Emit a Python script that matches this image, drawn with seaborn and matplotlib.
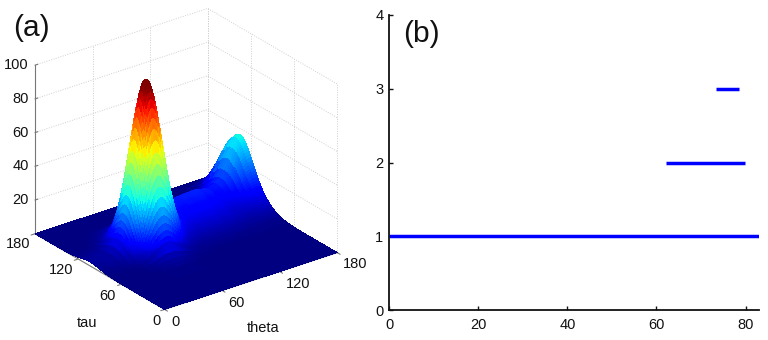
import numpy as np
import pandas as pd
import seaborn as sns
import matplotlib
matplotlib.use("Agg")
import matplotlib.pyplot as plt
from mpl_toolkits.mplot3d import proj3d

# panel (a): cross-sections, one per surface feature
theta = [0, 10, 20, 25,
         29.5, 31, 32.5, 34, 35.5, 37, 38.5, 40, 41.5, 43, 44.5, 46, 47.5, 49, 50.5, 52, 53.5, 55, 56.5, 58,
         59.5, 61, 62.5, 64, 65.5, 67, 68.5, 70, 71.5, 73, 74.5, 76, 77.5, 79, 80.5, 82, 83.5, 85, 86.5,
         90, 95, 100, 110, 120, 130, 140, 145, 150, 155, 160, 165, 170, 175, 180]
tau = [0, 20, 40, 55, 60, 65, 70,
       74.5, 76, 77.5, 79, 80.5, 82, 83.5, 85, 86.5, 88, 89.5, 91, 92.5, 94, 95.5, 97, 98.5, 100, 101.5, 103,
       104.5, 106, 107.5, 109, 110.5, 112, 113.5, 115, 116.5, 118, 119.5, 121, 122.5, 124, 125.5, 127, 128.5, 130, 131.5,
       135, 139, 145, 150, 155, 160, 170, 180]

main_height = 96
main_theta = [.024, .025, .035, .06,
              .108, .135, .168, .206, .249, .298, .352, .411, .474, .54, .607, .674, .739, .80, .857, .906, .946, .976, .994, 1,
              .994, .976, .946, .906, .857, .80, .739, .674, .607, .54, .474, .411, .352, .298, .249, .206, .168, .135, .108,
              .06, .03, .015, .005, 0, 0, 0, 0, 0, 0, 0, 0, 0, 0, 0]
main_tau = [0, 0, .003, .012, .02, .03, .05,
            .108, .135, .168, .206, .249, .298, .352, .411, .474, .54, .607, .674, .739, .80, .857, .906, .946, .976, .994, 1,
            .994, .976, .946, .906, .857, .80, .739, .674, .607, .54, .474, .411, .352, .298, .249, .206, .168, .135, .108,
            .06, .03, .015, .005, 0, 0, 0, 0]

edge_height = 31
edge_theta = [0, 0, 0, 0,
              0, 0, 0, 0, 0, 0, 0, 0, 0, 0, 0, 0, 0, 0, 0, 0, 0, 0, 0, 0,
              0, 0, 0, 0, 0, 0, 0, 0, 0, 0, 0, 0, 0, 0, 0, 0, 0, 0, 0,
              0, 0, 0, 0, 0, .004, .029, .066, .135, .249, .411, .607, .80, .946, 1]
edge_tau = [0, 0, 0, 0, 0, .001, .003,
            .0055, .007, .009, .011, .014, .017, .021, .026, .032, .039, .047, .056, .067, .08, .094, .11, .128, .149, .172, .198,
            .226, .257, .29, .325, .363, .402, .444, .487, .531, .576, .622, .667, .712, .755, .796, .835, .871, .904, .932,
            .98, 1, .94, .80, .62, .42, .12, 0]

ridge_height = 15
ridge_theta = [0, 0, .02, .04,
               .07, .08, .095, .11, .125, .14, .155, .17, .19, .21, .235, .255, .275, .295, .32, .34, .36, .385, .41, .43,
               .45, .47, .49, .515, .535, .555, .575, .595, .615, .635, .655, .675, .695, .715, .735, .755, .77, .785, .80,
               .82, .86, .89, .95, .99, 1, .85, .78, .72, .68, .65, .62, .6, .55, .5]
ridge_tau = [0, 0, 0, 0, .015, .035, .06,
             .095, .11, .13, .15, .175, .2, .225, .25, .28, .31, .34, .37, .405, .44, .47, .5, .535, .57, .60, .63,
             .665, .7, .73, .76, .79, .82, .85, .88, .905, .93, .95, .97, .98, .99, .995, 1, .98, .95, .9,
             .8, .62, .38, .2, .09, .03, 0, 0]

angle_ticks = [0, 60, 120, 180]
z_ticks = [20, 40, 60, 80, 100]

# panel (b): horizontal segments
seg_level = [1, 2, 3]
seg_start = [0, 62.2, 73.3]
seg_end = [83, 79.8, 78.6]
b_xticks = [0, 20, 40, 60, 80]
b_yticks = [0, 1, 2, 3, 4]

sns.set_style("white")
plt.rcParams['font.family'] = ['Liberation Sans', 'DejaVu Sans']
LABEL = 10.5
W, H = 768, 340

fig = plt.figure(figsize=(W / 100, H / 100), dpi=100)


def tick_label(ax, x, y, z, text, dx, dy, **kw):
    px, py, _ = proj3d.proj_transform(x, y, z, ax.get_proj())
    ax.annotate(text, xy=(px, py), xytext=(dx, dy), textcoords='offset pixels',
                fontsize=LABEL, color='#111111', ha=kw.pop('ha', 'center'), va='center', **kw)


# ---- panel (a) ----
ax = fig.add_axes([11.5 / W, 6.5 / H, 340 / W, 340 / H], projection='3d',
                  computed_zorder=False, proj_type='ortho')
ax.patch.set_alpha(0)
ax.set_xlim(0, 180)
ax.set_ylim(0, 180)
ax.set_zlim(0, 100)
ax.view_init(elev=26, azim=-126.9)
ax.set_box_aspect((216.4, 216.4, 188), zoom=1.023)
ax.set_axis_off()

grid = dict(color='#cfcfcf', lw=0.7, ls=(0, (1, 1.5)), zorder=1)
for z in z_ticks:
    ax.plot([0, 180, 180], [180, 180, 0], [z, z, z], **grid)
for t in angle_ticks[1:]:
    ax.plot([t, t], [180, 180], [0, 100], **grid)
    ax.plot([180, 180], [t, t], [0, 100], **grid)
ax.plot([180, 180], [0, 0], [0, 100], **grid)

axis_style = dict(color='#777777', lw=0.8, zorder=1)
ax.plot([0, 0], [180, 180], [0, 100], **axis_style)
ax.plot([0, 0], [0, 180], [0, 0], **axis_style)
ax.plot([0, 180], [0, 0], [0, 0], **axis_style)
for t in angle_ticks:
    ax.plot([0, -4], [t, t], [0, 0], **axis_style)
    ax.plot([t, t], [0, -4], [0, 0], **axis_style)
for z in z_ticks:
    ax.plot([0, 3], [180, 180], [z, z], **axis_style)

surface = (main_height * np.outer(main_tau, main_theta)
           + edge_height * np.outer(edge_tau, edge_theta)
           + ridge_height * np.outer(ridge_tau, ridge_theta))
X, Y = np.meshgrid(theta, tau)
ax.plot_surface(X, Y, surface, cmap='jet', vmin=0, vmax=96, rstride=1, cstride=1,
                linewidth=0, antialiased=False, shade=False, zorder=2)

for z in z_ticks:
    tick_label(ax, 0, 180, z, str(z), -6, 0, ha='right')
tau_offsets = [(-8, -12), (-14, -12), (-17, -11), (-17, -10)]
theta_offsets = [(11, -13), (14, -13), (18, -12), (18, -11)]
for t, off_t, off_th in zip(angle_ticks, tau_offsets, theta_offsets):
    tick_label(ax, 0, t, 0, str(t), *off_t)
    tick_label(ax, t, 0, 0, str(t), *off_th)

fig.text(87 / W, 1 - 323 / H, 'tau', fontsize=LABEL, ha='center', va='center', color='#111111')
fig.text(263 / W, 1 - 328 / H, 'theta', fontsize=LABEL, ha='center', va='center', color='#111111')
fig.text(31 / W, 1 - 28 / H, '(a)', fontsize=21.5, ha='center', va='center', color='#111111')

# ---- panel (b) ----
ax2 = fig.add_axes([389 / W, 30 / H, 370 / W, 295 / H])
for level, start, end in zip(seg_level, seg_start, seg_end):
    sns.lineplot(x=[start, end], y=[level, level], color='#0000ff', lw=2.5, ax=ax2,
                 estimator=None, solid_capstyle='butt', legend=False)
ax2.set_xlim(0, 83)
ax2.set_ylim(0, 4)
ax2.set_xticks(b_xticks)
ax2.set_yticks(b_yticks)
ax2.set_xlabel('')
ax2.set_ylabel('')
ax2.tick_params(direction='in', length=3, width=1.0, labelsize=LABEL, pad=4, color='#111111',
                labelcolor='#111111', bottom=True, left=True)
ax2.tick_params(axis='x', pad=6)
sns.despine(ax=ax2)
for side in ['left', 'bottom']:
    ax2.spines[side].set_linewidth(1.3)
    ax2.spines[side].set_color('#111111')
ax2.text(421 / W, 1 - 34 / H, '(b)', transform=fig.transFigure, fontsize=21.5,
         ha='center', va='center', color='#111111')

fig.savefig('out.png', dpi=100)
